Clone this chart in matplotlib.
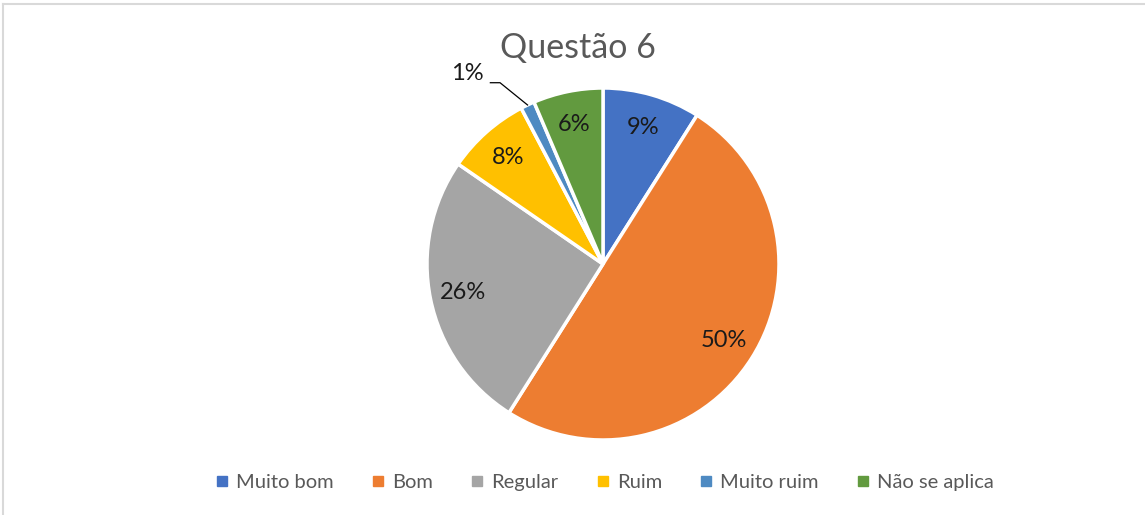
import numpy as np
import matplotlib.pyplot as plt
from matplotlib.lines import Line2D

categories = ['Muito bom', 'Bom', 'Regular', 'Ruim', 'Muito ruim', 'Não se aplica']
counts = [7, 39, 20, 6, 1, 5]
colors = ['#4472C4', '#ED7D31', '#A5A5A5', '#FFC000', '#4E8AC2', '#629A3F']
title = 'Questão 6'

plt.rcParams['font.family'] = ['Lato', 'DejaVu Sans']

W, H = 1145, 515
fig = plt.figure(figsize=(W / 100, H / 100), dpi=100)

# pie placed by pixel centre / radius
cx, cy, r = 603, 264, 176
ax = fig.add_axes([(cx - r) / W, (H - cy - r) / H, 2 * r / W, 2 * r / H])

wedges, texts, autotexts = ax.pie(
    counts, colors=colors, startangle=90, counterclock=False,
    autopct=lambda p: f'{p:.0f}%', pctdistance=0.81,
    wedgeprops=dict(edgecolor='white', linewidth=2.5),
    textprops=dict(fontsize=17, color='#1a1a1a'))
ax.set_xlim(-1, 1)
ax.set_ylim(-1, 1)
ax.set_aspect('equal')

# small slice label moved outside with a leader line
small = counts.index(min(counts))
w = wedges[small]
mid = np.deg2rad((w.theta1 + w.theta2) / 2)
ex, ey = np.cos(mid), np.sin(mid)
autotexts[small].set_position((-0.77, 1.085))
ax.plot([-0.64, -0.585, ex], [1.03, 1.03, ey], color='black', lw=0.9,
        clip_on=False)

fig.text(578 / W, 1 - 48 / H, title, ha='center', va='center',
         fontsize=24.5, color='#595959')

handles = [Line2D([], [], marker='s', linestyle='none', markersize=7,
                  markerfacecolor=c, markeredgecolor=c) for c in colors]
fig.legend(handles, categories, loc='center', ncol=6, frameon=False,
           bbox_to_anchor=(605 / W, 1 - 482 / H), fontsize=14.5,
           labelcolor='#595959', handlelength=0.6, handletextpad=0.4,
           columnspacing=1.9)

# chart-area border (left and top visible)
fig.add_artist(Line2D([3 / W, 3 / W], [0, 1 - 4 / H], color='#D9D9D9', lw=1.5))
fig.add_artist(Line2D([3 / W, 1], [1 - 4 / H, 1 - 4 / H], color='#D9D9D9', lw=1.5))

fig.savefig('out.png', dpi=100)
